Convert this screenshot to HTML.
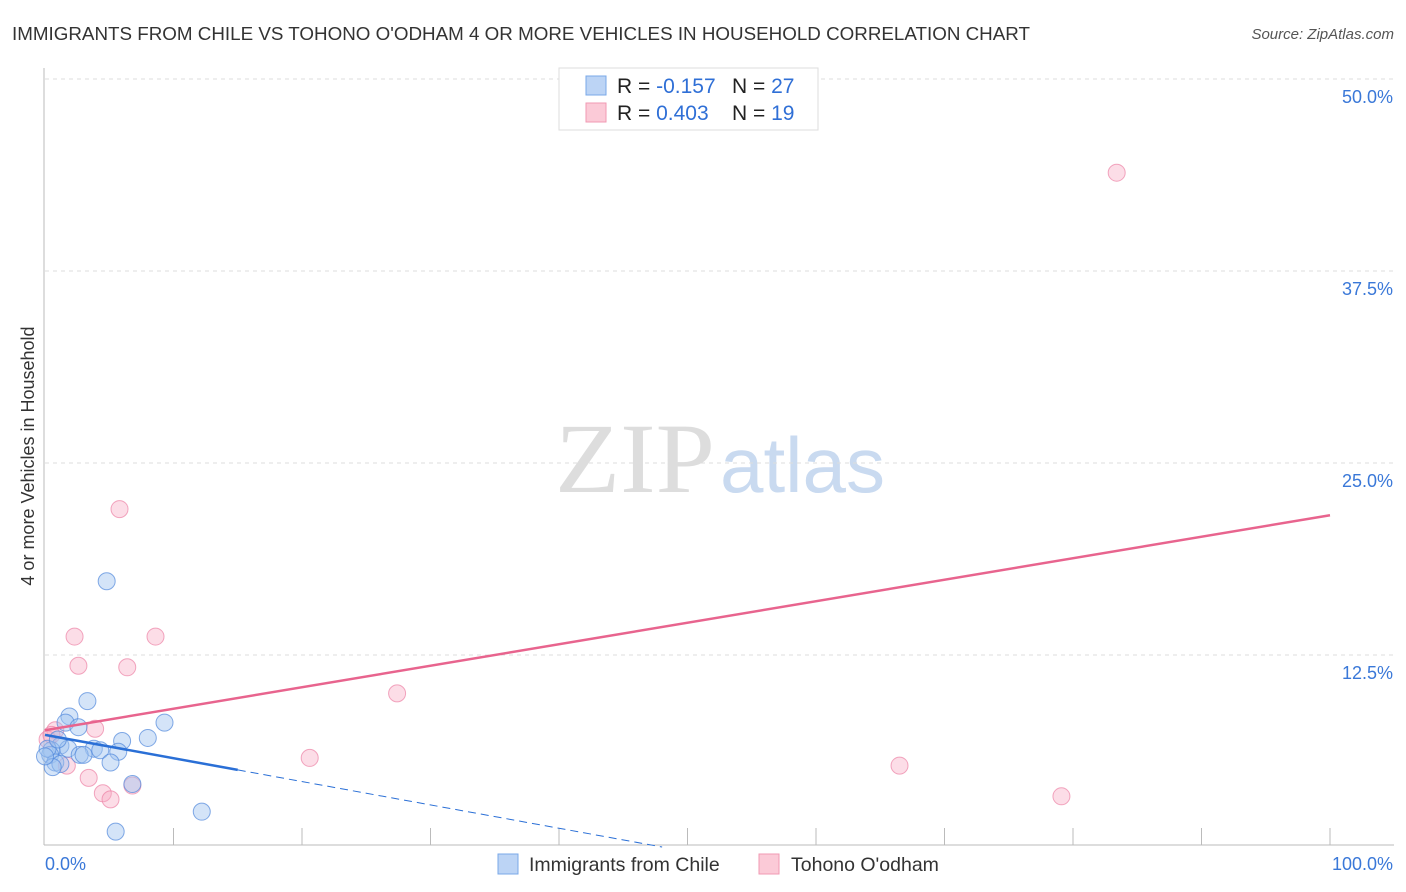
<!DOCTYPE html>
<html><head><meta charset="utf-8"><style>
body{margin:0;background:#fff;font-family:"Liberation Sans",sans-serif;}
#wrap{position:relative;width:1406px;height:892px;overflow:hidden;}
</style></head><body><div id="wrap">
<svg id="svg" width="1406" height="892" xmlns="http://www.w3.org/2000/svg">
<text x="12" y="40" font-size="18" fill="#333" textLength="1018" lengthAdjust="spacingAndGlyphs">IMMIGRANTS FROM CHILE VS TOHONO O'ODHAM 4 OR MORE VEHICLES IN HOUSEHOLD CORRELATION CHART</text>
<text x="1394" y="39" font-size="15" fill="#555" font-style="italic" text-anchor="end">Source: ZipAtlas.com</text>
<text x="555" y="492" font-size="100" fill="#ddd" font-family="Liberation Serif,serif" textLength="160" lengthAdjust="spacingAndGlyphs">ZIP</text>
<text x="720" y="492" font-size="78" fill="#c9daf0" textLength="165" lengthAdjust="spacingAndGlyphs">atlas</text>
<text transform="translate(34,456) rotate(-90)" font-size="18" fill="#333" text-anchor="middle">4 or more Vehicles in Household</text>
<g id="grid"></g><g id="axes"></g><g id="marks"></g>
<g>
<rect x="559" y="68" width="259" height="62" fill="#fff" stroke="#ddd"/>
<rect x="586" y="76" width="20" height="19" fill="#bcd4f5" stroke="#7aa8e8"/>
<rect x="586" y="103" width="20" height="19" fill="#fbcad7" stroke="#f09ab3"/>
<text x="617" y="93" font-size="21" fill="#222">R = <tspan fill="#2f6fd6">-0.157</tspan></text>
<text x="732" y="93" font-size="21" fill="#222">N = <tspan fill="#2f6fd6">27</tspan></text>
<text x="617" y="120" font-size="21" fill="#222">R = <tspan fill="#2f6fd6"> 0.403</tspan></text>
<text x="732" y="120" font-size="21" fill="#222">N = <tspan fill="#2f6fd6"> 19</tspan></text>
</g>
<g>
<rect x="498" y="854" width="20" height="20" fill="#bcd4f5" stroke="#7aa8e8"/>
<text x="529" y="871" font-size="19.5" fill="#333">Immigrants from Chile</text>
<rect x="759" y="854" width="20" height="20" fill="#fbcad7" stroke="#f09ab3"/>
<text x="791" y="871" font-size="19.5" fill="#333">Tohono O'odham</text>
</g>
</svg></div>
<script>
const yTicks=[12.5,25,37.5,50];
const yTickLabels=["12.5%","25.0%","37.5%","50.0%"];
const chileX=[4.8,3.3,9.3,1.9,1.6,2.6,8.0,6.0,1.2,1.8,3.8,4.3,5.7,2.7,3.0,0.5,0.4,0.8,1.2,5.1,0.6,6.8,12.2,5.5,0.2,0,1.0];
const chileY=[17.3,9.5,8.1,8.5,8.1,7.8,7.1,6.9,6.6,6.4,6.4,6.3,6.2,6.0,6.0,6.3,6.0,5.5,5.4,5.5,5.2,4.1,2.3,1.0,6.4,5.9,7.0];
const tohX=[83.4,5.8,2.3,8.6,2.6,6.4,27.4,3.9,0.8,20.6,1.7,3.4,4.5,5.1,6.8,66.5,79.1,0.2,0.5];
const tohY=[43.9,22.0,13.7,13.7,11.8,11.7,10.0,7.7,7.6,5.8,5.3,4.5,3.5,3.1,4.0,5.3,3.3,7.0,7.3];
const chileLine=[7.3,-0.0152];
const tohLine=[7.6,0.14];
const NS="http://www.w3.org/2000/svg";
const X=v=>45+v*12.85, Y=v=>847-v*15.36;
function mk(t,a,p){const e=document.createElementNS(NS,t);for(const k in a)e.setAttribute(k,a[k]);document.getElementById(p).appendChild(e);return e;}
yTicks.forEach((t,i)=>{
 const g=mk('line',{x1:45,x2:1394,y1:Y(t),y2:Y(t),stroke:'#ddd','stroke-dasharray':'4,4'},'grid');
 
 
 const l=mk('text',{x:1393,y:Y(t)+24,'font-size':18,fill:'#3a78d8','text-anchor':'end'},'grid');
 l.textContent=yTickLabels[i];
 
 
});
mk('line',{x1:44,x2:44,y1:68,y2:845,stroke:'#bbb'},'axes');
mk('line',{x1:44,x2:1394,y1:845,y2:845,stroke:'#bbb'},'axes');
for(let i=1;i<=10;i++){const t=mk('line',{x1:X(i*10),x2:X(i*10),y1:828,y2:845,stroke:'#bbb'},'axes');
 
 }
const x0=mk('text',{x:45,y:870,'font-size':18,fill:'#3a78d8'},'axes');x0.textContent='0.0%';


const x1=mk('text',{x:1393,y:870,'font-size':18,fill:'#3a78d8','text-anchor':'end'},'axes');x1.textContent='100.0%';


tohX.forEach((x,i)=>{const c=mk('circle',{cx:X(x),cy:Y(tohY[i]),r:8.5,fill:'rgba(248,170,195,0.4)',stroke:'rgba(236,130,165,0.7)'},'marks');
 
 });
chileX.forEach((x,i)=>{const c=mk('circle',{cx:X(x),cy:Y(chileY[i]),r:8.5,fill:'rgba(160,195,240,0.45)',stroke:'rgba(80,135,220,0.7)'},'marks');
 
 });
const tl=mk('line',{x1:X(0),y1:Y(tohLine[0]),x2:X(100),y2:Y(tohLine[0]+tohLine[1]*100),stroke:'#e8648e','stroke-width':2.5},'marks');


const cl=mk('line',{x1:X(0),y1:Y(chileLine[0]),x2:X(15),y2:Y(chileLine[0]+chileLine[1]*15*10),stroke:'#2a6fd6','stroke-width':2.5},'marks');


const xe=-chileLine[0]/(chileLine[1]*10);
const cd=mk('line',{x1:X(15),y1:Y(chileLine[0]+chileLine[1]*15*10),x2:X(xe),y2:Y(0),stroke:'#2a6fd6','stroke-width':1,'stroke-dasharray':'8,5'},'marks');


</script></body></html>
